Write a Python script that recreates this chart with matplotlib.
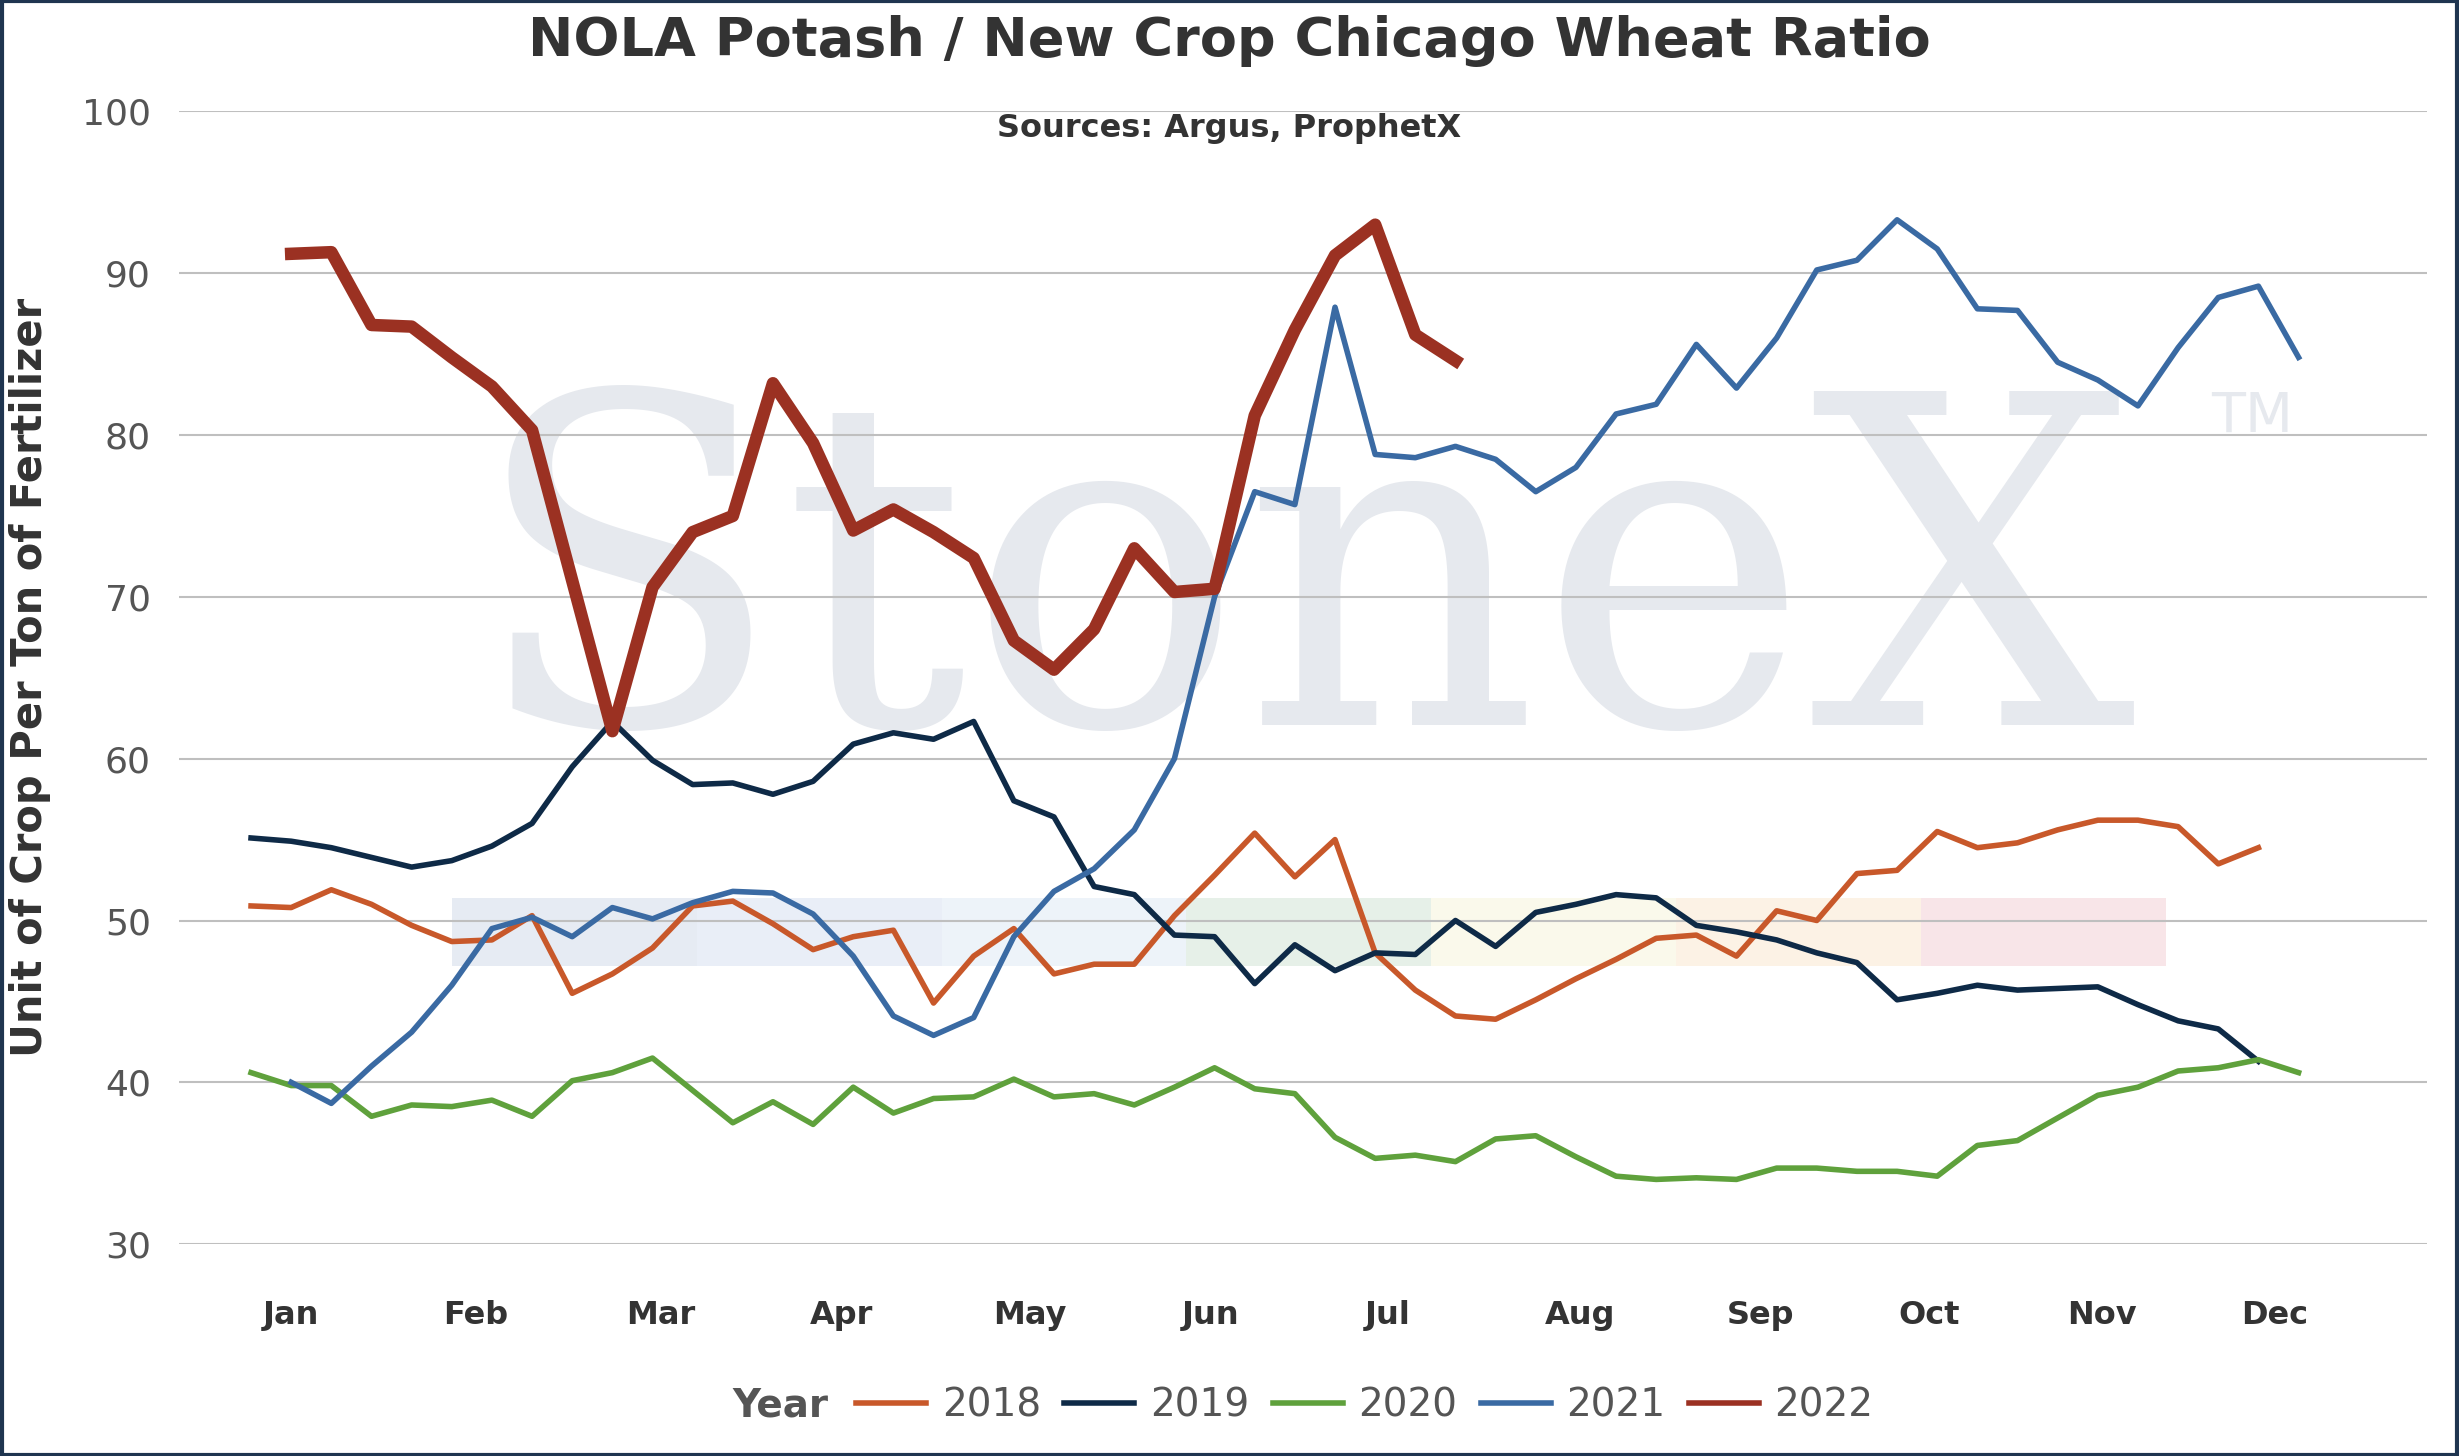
import matplotlib.pyplot as plt
from matplotlib.patches import Rectangle
from matplotlib.offsetbox import HPacker

s2018 = [50.9, 50.8, 51.9, 51, 49.7, 48.7, 48.8, 50.3, 45.5, 46.7, 48.3, 50.9, 51.2, 49.8, 48.2, 49, 49.4, 44.9,
         47.8, 49.5, 46.7, 47.3, 47.3, 50.3, 52.8, 55.4, 52.7, 55, 48, 45.7, 44.1, 43.9, 45.1, 46.4, 47.6, 48.9,
         49.1, 47.8, 50.6, 50, 52.9, 53.1, 55.5, 54.5, 54.8, 55.6, 56.2, 56.2, 55.8, 53.5, 54.5]
s2019 = [55.1, 54.9, 54.5, 53.9, 53.3, 53.7, 54.6, 56, 59.5, 62.3, 59.9, 58.4, 58.5, 57.8, 58.6, 60.9, 61.6, 61.2,
         62.3, 57.4, 56.4, 52.1, 51.6, 49.1, 49, 46.1, 48.5, 46.9, 48, 47.9, 50, 48.4, 50.5, 51, 51.6, 51.4, 49.7,
         49.3, 48.8, 48, 47.4, 45.1, 45.5, 46, 45.7, 45.8, 45.9, 44.8, 43.8, 43.3, 41.3]
s2020 = [40.6, 39.8, 39.8, 37.9, 38.6, 38.5, 38.9, 37.9, 40.1, 40.6, 41.5, 39.5, 37.5, 38.8, 37.4, 39.7, 38.1, 39,
         39.1, 40.2, 39.1, 39.3, 38.6, 39.7, 40.9, 39.6, 39.3, 36.6, 35.3, 35.5, 35.1, 36.5, 36.7, 35.4, 34.2, 34,
         34.1, 34, 34.7, 34.7, 34.5, 34.5, 34.2, 36.1, 36.4, 37.8, 39.2, 39.7, 40.7, 40.9, 41.4, 40.6]
s2021 = [40, 38.7, 41, 43.1, 46, 49.5, 50.2, 49, 50.8, 50.1, 51.1, 51.8, 51.7, 50.4, 47.8, 44.1, 42.9, 44, 49,
         51.8, 53.2, 55.6, 60, 70, 76.5, 75.7, 87.9, 78.8, 78.6, 79.3, 78.5, 76.5, 78, 81.3, 81.9, 85.6, 82.9, 86,
         90.2, 90.8, 93.3, 91.5, 87.8, 87.7, 84.5, 83.4, 81.8, 85.4, 88.5, 89.2, 84.8]
s2022 = [91.2, 91.3, 86.8, 86.7, 84.8, 83, 80.3, 71, 61.7, 70.6, 74, 75, 83.2, 79.5, 74.1, 75.4, 74, 72.4, 67.3,
         65.5, 68, 73, 70.3, 70.5, 81.2, 86.5, 91.1, 93, 86.2, 84.6]
months = ['Jan', 'Feb', 'Mar', 'Apr', 'May', 'Jun', 'Jul', 'Aug', 'Sep', 'Oct', 'Nov', 'Dec']
month_pos = [1, 5.6, 10.2, 14.7, 19.4, 23.9, 28.3, 33.1, 37.6, 41.8, 46.1, 50.4]

fig = plt.figure(figsize=(24.59, 14.56), dpi=100)
ax = fig.add_axes([0.0727, 0.1455, 0.9143, 0.778])
ax.set_xlim(-1.8, 54.2)
ax.set_ylim(30, 100)

# watermark
ax.text(0.5, 0.57, 'StoneX', transform=ax.transAxes, ha='center', va='center', fontsize=330,
        family='DejaVu Serif', color='#e6e9ee', zorder=0)
ax.text(0.922, 0.73, 'TM', transform=ax.transAxes, ha='center', va='center', fontsize=40,
        color='#e6e9ee', zorder=0)
band_cols = ['#cfd8e8', '#d5dff0', '#dde8f5', '#cfe3d2', '#f7f5d8', '#fbe6cc', '#f3cdd3']
for k, c in enumerate(band_cols):
    ax.add_patch(Rectangle((5.0 + k * 6.1, 47.2), 6.1, 4.2, color=c, alpha=0.5, lw=0, zorder=0))

ax.grid(axis='y', color='#bfbfbf', lw=1.5)
ax.set_axisbelow(True)
ax.plot(range(len(s2018)), s2018, color='#c8582a', lw=4, label='2018')
ax.plot(range(len(s2019)), s2019, color='#0e2a47', lw=4, label='2019')
ax.plot(range(len(s2020)), s2020, color='#5fa13c', lw=4, label='2020')
ax.plot(range(1, 1 + len(s2021)), s2021, color='#3a6aa3', lw=4, label='2021')
ax.plot(range(1, 1 + len(s2022)), s2022, color='#9b3122', lw=9, label='2022')

ax.set_xticks(month_pos)
ax.set_xticklabels(months, fontsize=23, fontweight='bold', color='#333333')
ax.set_yticks(range(30, 101, 10))
ax.tick_params(axis='y', labelsize=26, colors='#555555', length=0, pad=20)
ax.tick_params(axis='x', length=0, pad=40)
for sp in ax.spines.values():
    sp.set_visible(False)
ax.set_ylabel('Unit of Crop Per Ton of Fertilizer', fontsize=30, fontweight='bold', color='#333333', labelpad=22)

fig.text(0.5, 0.972, 'NOLA Potash / New Crop Chicago Wheat Ratio', ha='center', va='center',
         fontsize=39, fontweight='bold', color='#333333')
fig.text(0.5, 0.912, 'Sources: Argus, ProphetX', ha='center', va='center', fontsize=23,
         fontweight='bold', color='#333333')

leg = ax.legend(loc='upper center', bbox_to_anchor=(0.5, -0.095), ncol=5, frameon=False, fontsize=28,
                title='Year', handlelength=1.8, columnspacing=0.6, handletextpad=0.4,
                labelcolor='#555555')
for h in leg.get_lines():
    h.set_linewidth(4)
leg.get_title().set_fontsize(28)
leg.get_title().set_fontweight('bold')
leg.get_title().set_color('#555555')
box = leg._legend_box
box.__class__ = HPacker
box.sep = 20

fig.add_artist(Rectangle((0.001, 0.001), 0.998, 0.998, transform=fig.transFigure, fill=False,
                         edgecolor='#1f3550', lw=3))
fig.savefig('out.png', dpi=100)
